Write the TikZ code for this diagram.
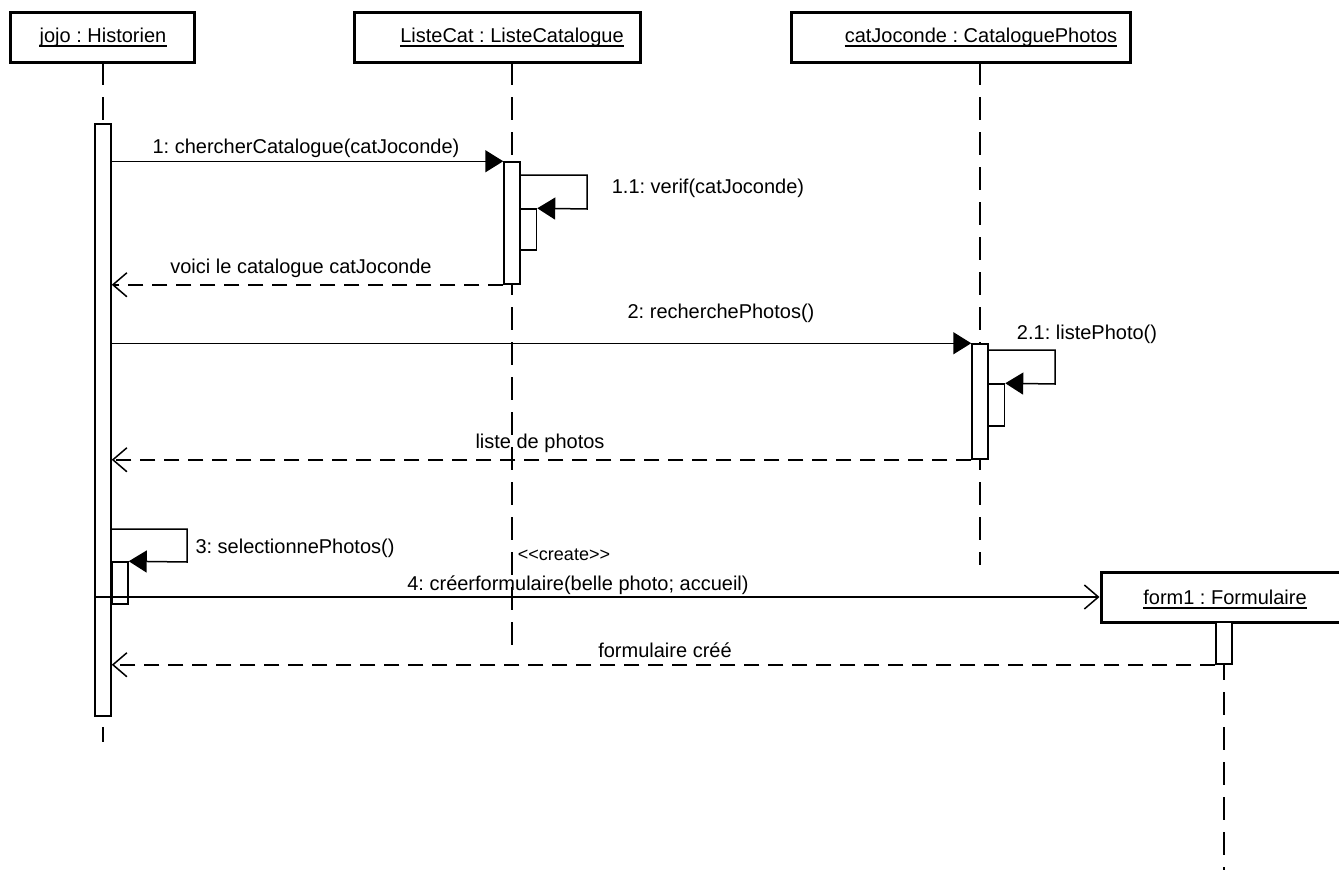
\documentclass[tikz,border=0pt]{standalone}
\usepackage{fontspec}
\setmainfont{Liberation Sans}
\usetikzlibrary{arrows.meta}
\frenchspacing
\begin{document}
\begin{tikzpicture}[x=1pt,y=-1pt,
  objbox/.style={draw,line width=3pt,fill=white,inner sep=0pt},
  objtxt/.style={inner sep=0pt,font=\fontsize{20}{24}\selectfont},
  uline/.style={line width=1.8pt},
  msgtxt/.style={inner sep=0pt,font=\fontsize{20}{24}\selectfont},
  lifeline/.style={line width=1.5pt,dash pattern=on 23pt off 12pt},
  actbar/.style={draw,line width=1.5pt,fill=white,inner sep=0pt,minimum width=16pt},
  syncmsg/.style={line width=1.5pt,-{Triangle[length=18pt,width=22pt]}},
  createmsg/.style={line width=1.5pt,-{Straight Barb[length=14pt,width=24pt,line width=1.5pt]}},
  retmsg/.style={line width=1.5pt,dash pattern=on 15pt off 9pt,-{Straight Barb[length=14pt,width=24pt,line width=1.5pt,sep=0pt]}}
]
\useasboundingbox (0,0) rectangle (1339,870);
\clip (0,0) rectangle (1339,870);

% lifelines
\coordinate (llA1) at (103,62);  \coordinate (llA2) at (103,742);
\coordinate (llB1) at (512,62);  \coordinate (llB2) at (512,648);
\coordinate (llC1) at (980,62);  \coordinate (llC2) at (980,565);
\coordinate (llD1) at (1224,622); \coordinate (llD2) at (1224,870);
\draw[lifeline] (llA1) -- (llA2);
\draw[lifeline] (llB1) -- (llB2);
\draw[lifeline] (llC1) -- (llC2);
\draw[lifeline] (llD1) -- (llD2);

% object boxes
\node[objbox,minimum width=184pt,minimum height=50pt] (bA) at (102,37) {};
\node[objtxt] (tA) at (103,37) {jojo : Historien};
\node[objbox,minimum width=286pt,minimum height=50pt] (bB) at (497,37) {};
\node[objtxt] (tB) at (512,37) {ListeCat : ListeCatalogue};
\node[objbox,minimum width=339pt,minimum height=50pt] (bC) at (960.5,37) {};
\node[objtxt] (tC) at (981,37) {catJoconde : CataloguePhotos};
\node[objbox,minimum width=260pt,minimum height=50pt] (bD) at (1231,597) {};
\node[objtxt] (tD) at (1225,597) {form1 : Formulaire};
\foreach \t in {tA,tB,tC,tD}
  \draw[uline] ([yshift=-3.5pt]\t.base west) -- ([yshift=-3.5pt]\t.base east);

% activation bars
\node[actbar,minimum height=592pt] (aA) at (103,420) {};
\node[actbar,minimum height=122pt] (aB) at (512,223) {};
\node[actbar,minimum height=41pt] (nB) at (528.5,229.5) {};
\node[actbar,minimum height=115pt] (aC) at (980,401.5) {};
\node[actbar,minimum height=42pt] (nC) at (996.5,405) {};
\node[actbar,minimum height=42pt] (nA) at (120,583) {};
\node[actbar,minimum height=42pt] (aD) at (1224,643) {};

% messages
\draw[syncmsg] (aA.east |- aB.north west) -- (aB.north west);
\node[msgtxt] (m1) at (306,148) {1: chercherCatalogue(catJoconde)};

\draw[syncmsg] (aB.east |- 0,175) -- (587,175) -- (587,209) -- (nB.north east);
\node[msgtxt] (m11) at (708,188) {1.1: verif(catJoconde)};

\draw[retmsg] (aB.south west) -- (aA.east |- aB.south west);
\node[msgtxt] (r1) at (301,268) {voici le catalogue catJoconde};

\draw[syncmsg] (aA.east |- aC.north west) -- (aC.north west);
\node[msgtxt] (m2) at (721,313) {2: recherchePhotos()};

\draw[syncmsg] (aC.east |- 0,350) -- (1055,350) -- (1055,384) -- (nC.north east);
\node[msgtxt] (m21) at (1087,334) {2.1: listePhoto()};

\draw[retmsg] (aC.south west) -- (aA.east |- aC.south west);
\node[msgtxt] (r2) at (540,443) {liste de photos};

\draw[syncmsg] (aA.east |- 0,529) -- (187,529) -- (187,562) -- (nA.north east);
\node[msgtxt] (m3) at (295,548) {3: selectionnePhotos()};

\draw[createmsg] (aA.west |- bD.west) -- (bD.west);
\node[msgtxt,font=\fontsize{18}{22}\selectfont] (cr) at (564,555) {{<}{<}create{>}{>}};
\node[msgtxt] (m4) at (578,585) {4: créerformulaire(belle photo; accueil)};

\draw[retmsg] (aD.south west) -- (aA.east |- aD.south west);
\node[msgtxt] (r4) at (665,650) {formulaire créé};
\end{tikzpicture}
\end{document}
